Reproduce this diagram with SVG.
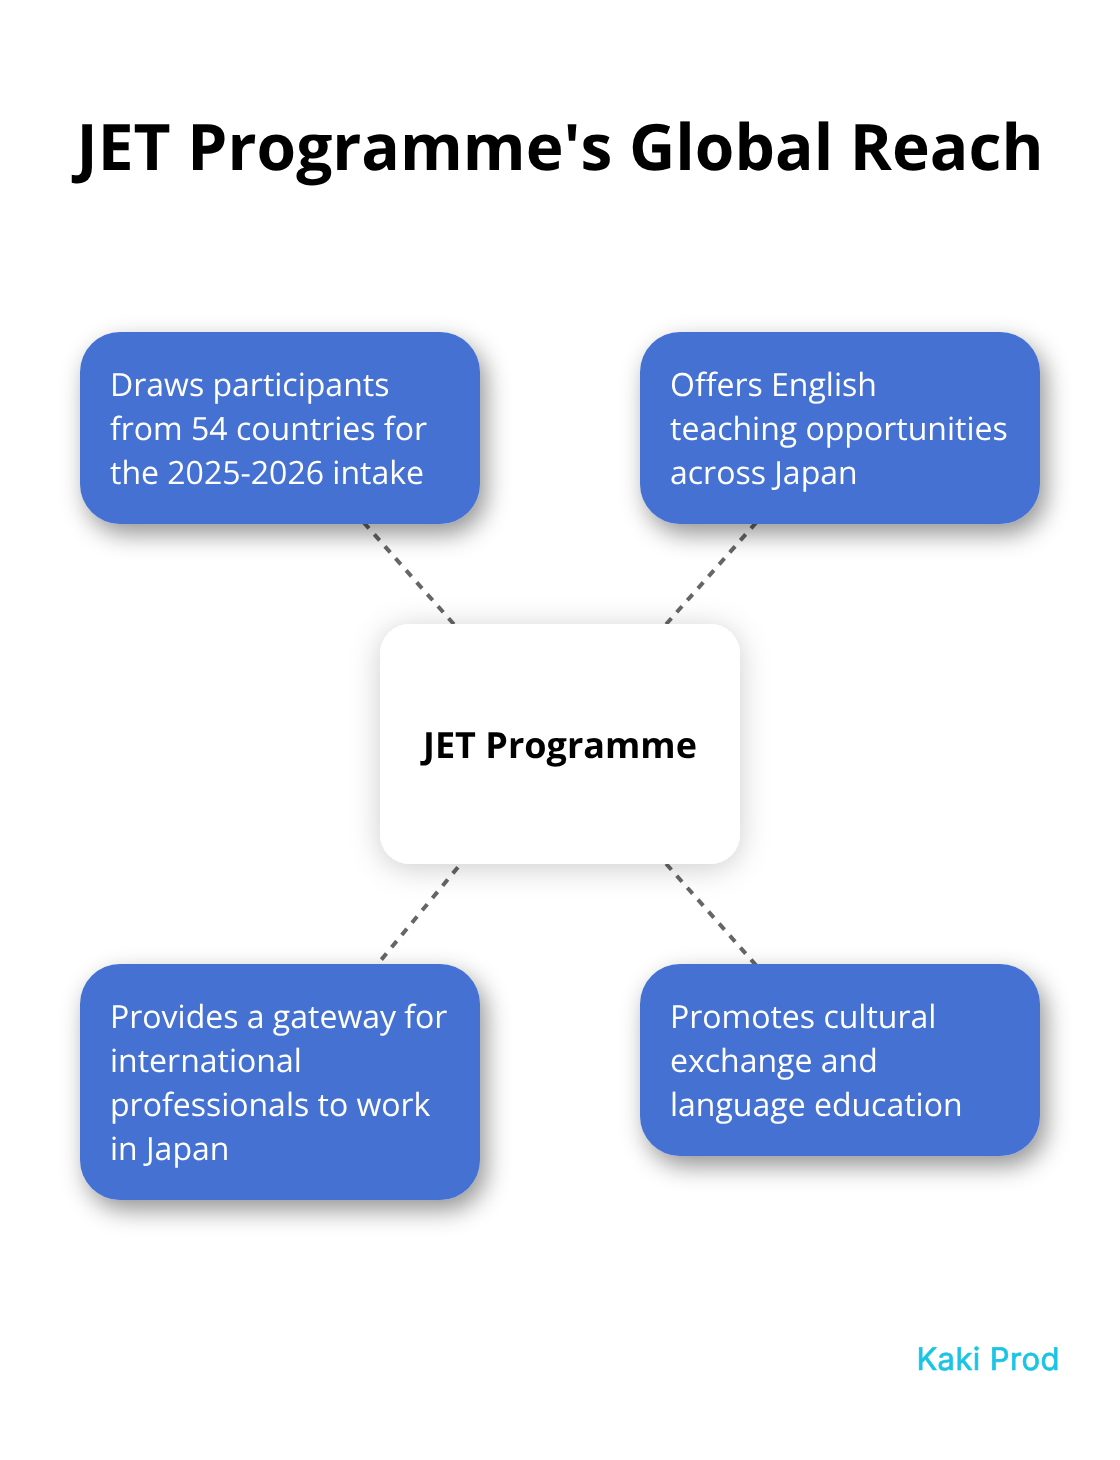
<svg xmlns="http://www.w3.org/2000/svg" width="1120" height="1460" viewBox="0 0 1120 1460">
<defs>
<style>
text{font-family:"Open Sans","Noto Sans",sans-serif;text-rendering:geometricPrecision}
.title{font-size:64px;font-weight:700;fill:#000}
.blue{fill:#4472d2}
.t{font-size:32px;fill:#fff}
.c{stroke:#666;stroke-width:4;stroke-dasharray:8 8;fill:none}
.blueShadow{filter:url(#sb)}
.whiteShadow{filter:url(#sw)}
.gray{opacity:.999}
</style>
<filter id="sb" x="-20%" y="-30%" width="140%" height="170%"><feDropShadow dx="6" dy="10" stdDeviation="12" flood-color="#000" flood-opacity="0.42"/></filter>
<filter id="sw" x="-30%" y="-30%" width="160%" height="170%"><feDropShadow dx="0" dy="4" stdDeviation="15" flood-color="#000" flood-opacity="0.2"/></filter>
</defs>
<rect width="1120" height="1460" fill="#fff"/>
<text class="title gray" x="560" y="170" text-anchor="middle">JET Programme's Global Reach</text>
<g id="connectors">
<line class="c" x1="560" y1="744" x2="280" y2="428"/>
<line class="c" x1="560" y1="744" x2="840" y2="428"/>
<line class="c" x1="560" y1="744" x2="280" y2="1082"/>
<line class="c" x1="560" y1="744" x2="840" y2="1060"/>
</g>
<g id="node-center" class="gray">
<rect class="whiteShadow" x="380" y="624" width="360" height="240" rx="30" fill="#fff"/>
<text x="560" y="758" text-anchor="middle" font-size="36" font-weight="700" fill="#000">JET Programme</text>
</g>
<g id="node-tl" class="gray">
<rect class="blue blueShadow" x="80" y="332" width="400" height="192" rx="40"/>
<text class="t" x="110" y="396">Draws participants</text>
<text class="t" x="110" y="440">from 54 countries for</text>
<text class="t" x="110" y="484">the 2025-2026 intake</text>
</g>
<g id="node-tr" class="gray">
<rect class="blue blueShadow" x="640" y="332" width="400" height="192" rx="40"/>
<text class="t" x="670" y="396">Offers English</text>
<text class="t" x="670" y="440">teaching opportunities</text>
<text class="t" x="670" y="484">across Japan</text>
</g>
<g id="node-bl" class="gray">
<rect class="blue blueShadow" x="80" y="964" width="400" height="236" rx="40"/>
<text class="t" x="110" y="1028">Provides a gateway for</text>
<text class="t" x="110" y="1072">international</text>
<text class="t" x="110" y="1116">professionals to work</text>
<text class="t" x="110" y="1160">in Japan</text>
</g>
<g id="node-br" class="gray">
<rect class="blue blueShadow" x="640" y="964" width="400" height="192" rx="40"/>
<text class="t" x="670" y="1028">Promotes cultural</text>
<text class="t" x="670" y="1072">exchange and</text>
<text class="t" x="670" y="1116">language education</text>
</g>
<text class="gray" x="1060" y="1370" text-anchor="end" style="font-family:Inter,sans-serif" font-size="31" font-weight="400" stroke="#1cc4e4" stroke-width="0.7" stroke-linejoin="round" letter-spacing="0.4" fill="#1cc4e4">Kaki Prod</text>
</svg>
